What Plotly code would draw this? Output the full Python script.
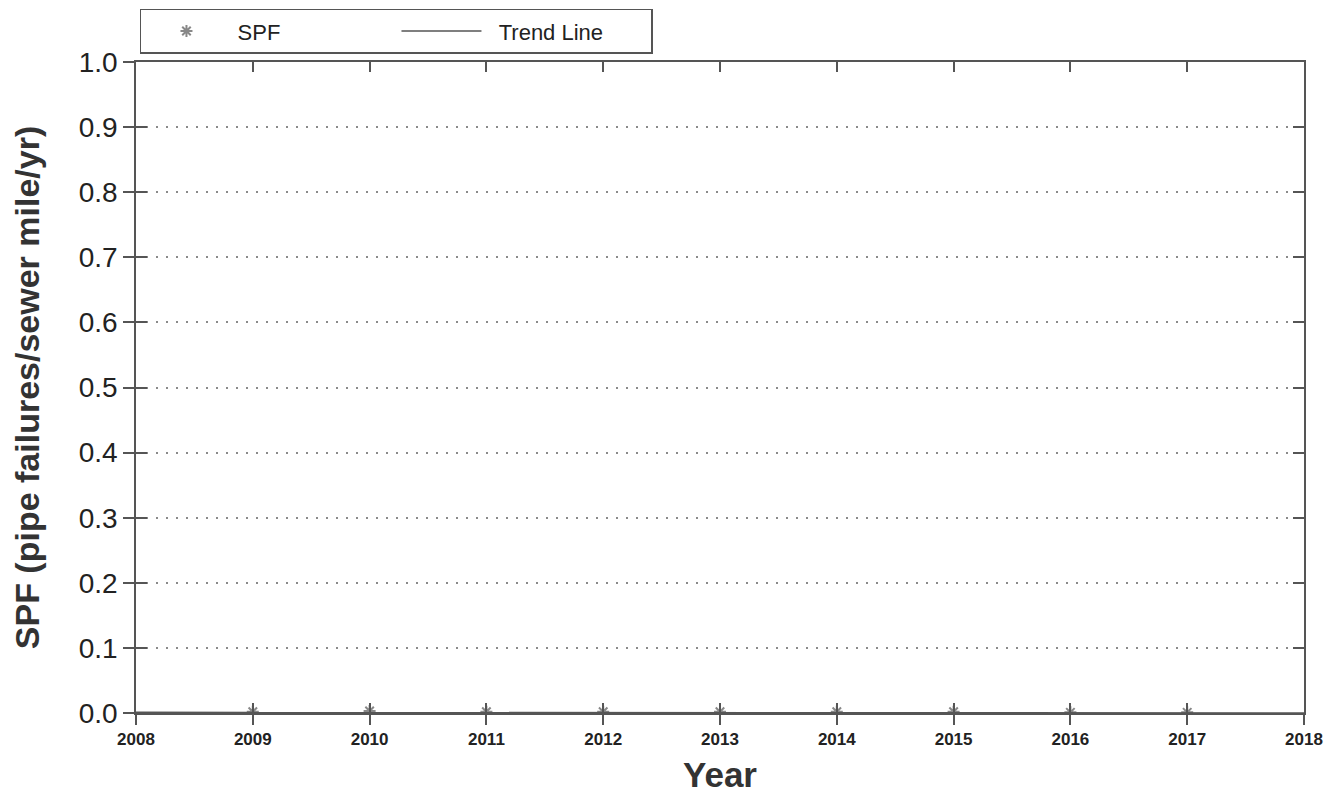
import plotly.graph_objects as go

years = [2009, 2010, 2011, 2012, 2013, 2014, 2015, 2016, 2017]
spf = [0.002, 0.003, 0.002, 0.002, 0.002, 0.002, 0.002, 0.001, 0.001]
trend_x = [2008, 2018]
trend_y = [0.001, 0.0]
y_ticks = [0.0, 0.1, 0.2, 0.3, 0.4, 0.5, 0.6, 0.7, 0.8, 0.9, 1.0]
x_ticks = list(range(2008, 2019))

NB = "\u00a0"
fig = go.Figure()
fig.add_trace(go.Scatter(x=years, y=spf, mode="markers", name=NB + "SPF",
                         marker=dict(symbol="asterisk-open", size=10, color="#888888",
                                     line=dict(color="#888888", width=2))))
fig.add_trace(go.Scatter(x=trend_x, y=trend_y, mode="lines", name=NB * 2 + "Trend Line",
                         line=dict(color="#555555", width=1.5)))
# helper trace for inside-tick overlay axes
fig.add_trace(go.Scatter(x=[2008], y=[0], xaxis="x2", yaxis="y2", mode="markers",
                         marker=dict(opacity=0), showlegend=False, hoverinfo="skip"))

fig.update_layout(
    width=1321, height=786,
    paper_bgcolor="white", plot_bgcolor="white",
    margin=dict(l=128, r=25, t=54, b=81, autoexpand=False),
    font=dict(family="Liberation Sans, Arial, sans-serif", color="#222222"),
    xaxis=dict(range=[2008, 2018], tickvals=x_ticks, ticktext=[str(v) for v in x_ticks],
               ticks="outside", ticklen=10, tickcolor="#555", tickwidth=1.5,
               tickfont=dict(size=17, family="Liberation Sans, Arial", weight="bold"),
               showgrid=False, zeroline=False, showline=True, linecolor="#555", linewidth=1.5,
               mirror=True, automargin=False,
               title=dict(text="Year", font=dict(size=35, weight="bold", color="#333"), standoff=19)),
    yaxis=dict(range=[0, 1.0], tickvals=y_ticks, ticktext=[f"{v:.1f}" for v in y_ticks],
               ticks="outside", ticklen=11, tickcolor="#555", tickwidth=1.5,
               tickfont=dict(size=28, color="#222"),
               showgrid=True, gridcolor="#8a8a8a", griddash="2px,8px", gridwidth=2,
               zeroline=False, showline=True, linecolor="#555", linewidth=1.5, mirror=True,
               automargin=False,
               title=dict(text="SPF (pipe failures/sewer mile/yr)",
                          font=dict(size=34, weight="bold", color="#333"), standoff=32)),
    xaxis2=dict(range=[2008, 2018], overlaying="x", tickvals=x_ticks, showticklabels=False,
                ticks="inside", ticklen=10, tickcolor="#555", tickwidth=1.5,
                showgrid=False, zeroline=False, showline=False, mirror="ticks"),
    yaxis2=dict(range=[0, 1.0], overlaying="y", tickvals=y_ticks, showticklabels=False,
                ticks="inside", ticklen=11, tickcolor="#555", tickwidth=1.5,
                showgrid=False, zeroline=False, showline=False, mirror="ticks"),
    legend=dict(orientation="h", x=0.0034, y=1.082, xanchor="left", yanchor="top",
                bordercolor="#555", borderwidth=1.5, bgcolor="white",
                font=dict(size=22, color="#222"), entrywidth=160, entrywidthmode="pixels",
                itemwidth=80),
    showlegend=True,
)

fig.write_html("out.html")
